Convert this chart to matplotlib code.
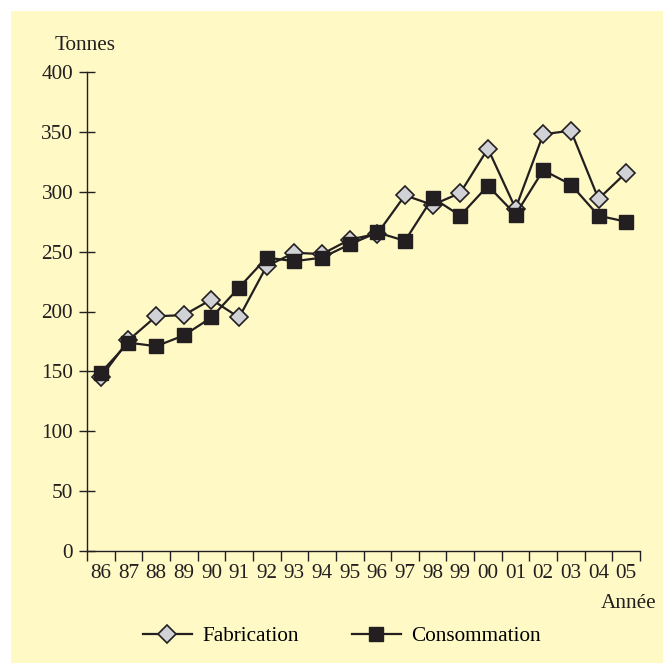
import matplotlib.pyplot as plt
from matplotlib.patches import Rectangle
import numpy as np

annees = ['86', '87', '88', '89', '90', '91', '92', '93', '94', '95',
          '96', '97', '98', '99', '00', '01', '02', '03', '04', '05']
fabrication = [145, 176, 196, 197, 210, 195, 238, 249, 248, 260,
               265, 297, 289, 299, 336, 286, 348, 351, 294, 316]
consommation = [149, 174, 171, 180, 195, 220, 245, 242, 245, 256,
                266, 259, 295, 280, 305, 281, 318, 306, 280, 275]

plt.rcParams['font.family'] = ['Liberation Serif', 'DejaVu Serif']
jaune = '#fff9c6'
noir = '#231f20'
fs = 15.3

fig = plt.figure(figsize=(6.63, 6.63), dpi=100)
fig.patch.set_facecolor('white')
# fond jaune decale de quelques pixels en haut a gauche
fig.patches.append(Rectangle((11/663, 0), 1, 1 - 11/663, transform=fig.transFigure,
                             facecolor=jaune, edgecolor='none', zorder=-10))

ax = fig.add_axes([87/663, 112/663, 553/663, 479/663])
ax.set_facecolor('none')
x = np.arange(len(annees))

ax.plot(x, fabrication, '-', color=noir, lw=1.6, marker='D', ms=9,
        mfc='#d0d2d6', mec=noir, mew=1.2, label='Fabrication', zorder=3)
ax.plot(x, consommation, '-', color=noir, lw=1.6, marker='s', ms=10,
        mfc=noir, mec=noir, mew=1, label='Consommation', zorder=4)

ax.set_xlim(-0.5, len(annees) - 0.5)
ax.set_ylim(0, 400)
ax.set_yticks(np.arange(0, 401, 50))
ax.set_xticks(np.arange(-0.5, len(annees), 1))
ax.set_xticklabels([])
ax.set_xticks(x, minor=True)
ax.set_xticklabels(annees, minor=True)
ax.tick_params(axis='x', which='major', direction='out', length=7, width=1, color=noir)
ax.tick_params(axis='x', which='minor', length=0, labelsize=fs, pad=9, colors=noir)
ax.tick_params(axis='y', direction='inout', length=12, width=1, labelsize=fs, pad=4, colors=noir)

for s in ['top', 'right']:
    ax.spines[s].set_visible(False)
for s in ['left', 'bottom']:
    ax.spines[s].set_color(noir)
    ax.spines[s].set_linewidth(1)

fig.text(55/663, 1 - 46/663, 'Tonnes', fontsize=fs, color=noir, va='center')
fig.text(656/663, 1 - 603/663, 'Année', fontsize=fs, color=noir, ha='right', va='center')

fig.legend(loc='center', bbox_to_anchor=(342/663, 1 - 636/663), ncol=2, frameon=False,
           fontsize=fs, handlelength=2.3, columnspacing=2.5, handletextpad=0.5)

fig.savefig('out.png', dpi=100, facecolor=fig.get_facecolor())
